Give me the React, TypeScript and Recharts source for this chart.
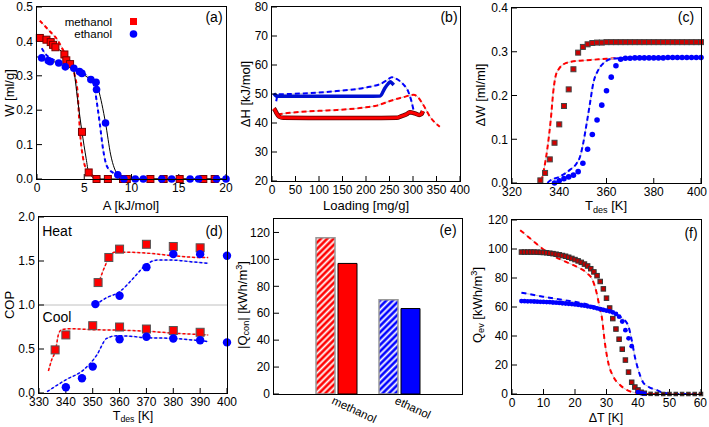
import React from 'react';
import { ComposedChart, BarChart, Bar, Cell, Line, Scatter, XAxis, YAxis, ReferenceLine } from 'recharts';

const FONT = '"Liberation Sans", Arial, sans-serif';
const RED = '#ff0000';
const BLUE = '#0000ff';

// ---------- (a) W vs A ----------
const aMethX = [0.3, 1.0, 1.45, 1.7, 1.95, 2.9, 3.1, 3.5, 4.76, 5.47, 6.3, 7.5, 9.1, 9.5, 12.0, 13.4, 15.1, 17.6, 18.8];
const aMethW = [0.41, 0.405, 0.398, 0.39, 0.383, 0.362, 0.345, 0.334, 0.137, 0.019, 0, 0, 0, 0, 0, 0, 0, 0, 0];
const aEthX = [0.5, 1.2, 1.4, 2.3, 3.0, 3.9, 4.5, 4.75, 5.7, 6.25, 6.3, 7.25, 8.55, 9.2, 10.4, 11.25, 13.2, 14.25, 16.2, 17.1, 19.0, 20.0];
const aEthW = [0.352, 0.344, 0.341, 0.337, 0.326, 0.322, 0.312, 0.307, 0.289, 0.281, 0.26, 0.163, 0.012, 0, 0, 0, 0, 0, 0, 0, 0, 0];
const aMethFitX = [0.3, 1.0, 1.45, 1.7, 1.95, 2.9, 3.1, 3.5, 3.85, 4.3, 4.76, 5.2, 5.47, 6.3, 20];
const aMethFitW = [0.41, 0.405, 0.398, 0.39, 0.383, 0.362, 0.345, 0.334, 0.32, 0.23, 0.137, 0.06, 0.019, 0, 0];
const aEthFitX = [0, 0.5, 1.2, 2.3, 3.0, 3.9, 4.5, 5.7, 6.25, 6.5, 7.25, 7.8, 8.55, 9.2, 20];
const aEthFitW = [0.355, 0.352, 0.344, 0.337, 0.326, 0.322, 0.312, 0.289, 0.281, 0.26, 0.163, 0.07, 0.012, 0, 0];
const aMethSimX = [0.3, 1.4, 2.1, 2.8, 3.5, 4.0, 4.3, 4.45, 4.6, 4.85, 5.25, 6.0, 6.7];
const aMethSimW = [0.46, 0.428, 0.407, 0.373, 0.34, 0.3, 0.25, 0.18, 0.12, 0.065, 0.027, 0.008, 0];
const aEthSimX = [0.5, 1.0, 1.5, 2.3, 3.0, 3.9, 4.5, 5.7, 5.95, 6.15, 6.4, 6.65, 7.0, 7.4, 8.1, 8.8, 9.5];
const aEthSimW = [0.38, 0.36, 0.35, 0.34, 0.33, 0.322, 0.312, 0.29, 0.28, 0.255, 0.21, 0.16, 0.085, 0.037, 0.017, 0.008, 0];

// ---------- (b) dH vs loading ----------
const bEthX = [4, 8, 15, 50, 100, 150, 200, 230, 240, 247, 252, 256, 259];
const bEthH = [50.2, 49.4, 49.2, 49.2, 49.2, 49.2, 49.2, 49.3, 52, 53.5, 54.2, 53.6, 53.1];
const bMethX = [4, 7, 10, 15, 24, 100, 200, 265, 276, 286, 293, 304, 313, 318, 321];
const bMethH = [45, 44.3, 43.3, 42.2, 41.8, 41.7, 41.7, 41.8, 42.4, 43, 43.7, 43.3, 42.8, 43.1, 44.1];
const bEthSimX = [9, 13, 20, 38, 67, 138, 208, 230, 245, 255, 265, 279, 290, 297, 301];
const bEthSimH = [47.5, 49.9, 49.9, 50, 50.2, 51, 52.5, 53.4, 54.8, 55.8, 55.2, 53.4, 50.8, 47.3, 44.5];
const bMethSimX = [12, 38, 100, 138, 200, 223, 251, 279, 301, 308, 322, 336, 357];
const bMethSimH = [43, 43.5, 44.2, 44.5, 45.4, 46, 47.6, 48.9, 49.7, 49.3, 46.2, 42.2, 38.7];

// ---------- (c) dW vs Tdes ----------
const cMethT = [332, 334, 336, 338, 340, 342, 344, 346, 348, 350, 352, 354, 356, 358, 360, 362, 364, 366, 368, 370, 372, 374, 376, 378, 380, 382, 384, 386, 388, 390, 392, 394, 396, 398, 400];
const cMethW = [0.006, 0.023, 0.054, 0.092, 0.134, 0.176, 0.214, 0.26, 0.298, 0.311, 0.317, 0.32, 0.321, 0.321, 0.322, 0.322, 0.322, 0.322, 0.322, 0.322, 0.322, 0.322, 0.322, 0.322, 0.322, 0.322, 0.322, 0.322, 0.322, 0.322, 0.322, 0.322, 0.322, 0.322, 0.322];
const cEthT = [338, 340, 342, 344, 346, 348, 350, 352, 354, 356, 358, 360, 362, 364, 366, 368, 370, 372, 374, 376, 378, 380, 382, 384, 386, 388, 390, 392, 394, 396, 398, 400];
const cEthW = [0, 0.005, 0.01, 0.014, 0.018, 0.026, 0.045, 0.077, 0.111, 0.144, 0.178, 0.211, 0.242, 0.268, 0.283, 0.285, 0.285, 0.286, 0.286, 0.286, 0.286, 0.286, 0.286, 0.286, 0.287, 0.287, 0.287, 0.287, 0.287, 0.287, 0.287, 0.287];
const cMethSimT = [332.5, 333.5, 335, 336.5, 337.5, 338.5, 340, 342, 345, 350, 355, 360, 370, 380, 400];
const cMethSimW = [0.005, 0.03, 0.08, 0.15, 0.21, 0.245, 0.262, 0.272, 0.277, 0.28, 0.282, 0.284, 0.286, 0.287, 0.287];
const cEthSimT = [335, 336, 340, 344.5, 347.4, 348.8, 350, 351.6, 353, 354.4, 356.5, 359.4, 362.2, 370, 400];
const cEthSimW = [0, 0.005, 0.014, 0.03, 0.045, 0.06, 0.087, 0.136, 0.182, 0.228, 0.258, 0.277, 0.284, 0.286, 0.287];

// ---------- (d) COP vs Tdes ----------
const dMethHeatT = [352, 356, 360, 370, 380, 390];
const dMethHeat = [1.255, 1.54, 1.635, 1.69, 1.665, 1.65];
const dMethCoolT = [336, 340, 350, 360, 370, 380, 390];
const dMethCool = [0.49, 0.66, 0.765, 0.75, 0.727, 0.71, 0.69];
const dEthHeatT = [351, 360, 370, 380, 390, 400];
const dEthHeat = [1.01, 1.105, 1.43, 1.578, 1.578, 1.56];
const dEthCoolT = [340, 346, 350, 360, 370, 380, 390, 400];
const dEthCool = [0.065, 0.167, 0.3, 0.61, 0.64, 0.62, 0.6, 0.575];
const dMethHeatSimT = [352, 354, 356, 358, 362, 370, 380, 390, 393];
const dMethHeatSim = [1.23, 1.4, 1.53, 1.6, 1.6, 1.59, 1.56, 1.54, 1.54];
const dEthHeatSimT = [351, 355, 360, 365, 370, 374, 380, 387, 393];
const dEthHeatSim = [1.0, 1.08, 1.15, 1.3, 1.46, 1.51, 1.51, 1.49, 1.475];
const dMethCoolSimT = [333.5, 334.7, 336.2, 337.2, 338.4, 341.5, 350, 364, 371, 380, 393];
const dMethCoolSim = [0.25, 0.375, 0.49, 0.66, 0.72, 0.73, 0.72, 0.71, 0.7, 0.68, 0.66];
const dEthCoolSimT = [333, 340, 346.5, 351.5, 355.2, 359, 364, 369, 380, 393];
const dEthCoolSim = [0.015, 0.15, 0.26, 0.43, 0.62, 0.65, 0.645, 0.63, 0.62, 0.585];

// ---------- (e) |Qcon| bars ----------
const eNames = ['methanol', 'ethanol'];
const eHatched = [116, 70];
const eSolid = [97, 63.5];

// ---------- (f) Qev vs dT ----------
const fMethT = [3, 4, 5, 6, 7, 8, 9, 10, 11, 12, 13, 14, 15, 16, 17, 18, 19, 20, 21, 22, 23, 24, 25, 26, 27, 28, 29, 30, 31, 32, 33, 34, 35, 36, 37, 38, 39, 40, 41, 42];
const fMethQ = [97.9, 97.9, 97.9, 97.9, 97.9, 97.8, 97.7, 97.6, 97.4, 97.1, 96.8, 96.4, 96, 95.5, 95, 94.3, 93.5, 92.7, 91.8, 90.8, 89.6, 88.3, 86.4, 84.2, 81.6, 77.6, 72.5, 66.1, 59.3, 52, 44.8, 37.8, 30.9, 23.4, 15.1, 8.1, 4.8, 2.8, 1.2, 0.5];
const fEthT = [3, 4, 5, 6, 7, 8, 9, 10, 11, 12, 13, 14, 15, 16, 17, 18, 19, 20, 21, 22, 23, 24, 25, 26, 27, 28, 29, 30, 31, 32, 33, 34, 35, 36, 37, 38, 40, 41, 42];
const fEthQ = [64.1, 64, 63.9, 63.9, 63.8, 63.7, 63.6, 63.5, 63.4, 63.3, 63.1, 63, 62.8, 62.6, 62.4, 62.2, 62, 61.8, 61.5, 61.2, 60.9, 60.5, 60.1, 59.6, 59.1, 58.5, 58, 57.5, 57, 56.3, 55.2, 53.3, 50, 44, 38.4, 33, 1.2, 0.6, 0.3];
const fTailT = [44, 46, 48, 50, 52, 54, 56, 58, 60];
const fTailQ = [0.1, 0.05, 0, 0, 0, 0, 0, 0, 0];
const fMethSimT = [2.6, 5.7, 8.9, 12.6, 16.3, 20.5, 24, 25.5, 26.9, 27.8, 28.5, 29.5, 30.6, 32.2, 34.3, 36.4, 39, 42.3, 60];
const fMethSimQ = [113, 107.4, 101.6, 95.9, 91.9, 87.8, 83, 79, 69.4, 60, 53.3, 35, 21.2, 11.9, 6.2, 2.8, 1, 0, 0];
const fEthSimT = [3, 9.9, 16.3, 22.6, 27.5, 31.7, 34.3, 35.9, 37, 38, 39, 40.1, 41.5, 43.3, 45.9, 48, 53, 60];
const fEthSimQ = [69.9, 67.1, 64.8, 62.5, 59.5, 56.8, 53.3, 50.6, 46.4, 37.2, 25.7, 16.6, 8.5, 5, 2.8, 0.9, 0, 0];

type Pt = { x: number; y: number };
const zip = (xs: number[], ys: number[]): Pt[] => xs.map((x, i) => ({ x, y: ys[i] }));

type Box = { l: number; t: number; r: number; b: number };
const YW = 40;
const XH = 30;
const PAD = 8;
const PADR = 16;

const boxA: Box = { l: 37, t: 7, r: 226, b: 179 };
const boxB: Box = { l: 272, t: 7, r: 460, b: 181 };
const boxC: Box = { l: 512, t: 8, r: 701, b: 183 };
const boxD: Box = { l: 39, t: 217, r: 227, b: 393 };
const boxE: Box = { l: 274, t: 219, r: 462, b: 394 };
const boxF: Box = { l: 512, t: 220, r: 701, b: 394 };

const tickStyle = { fill: '#000', fontSize: 12, fontFamily: FONT };
const axisProps = {
  tick: tickStyle,
  tickSize: -5,
  tickMargin: 9,
  axisLine: false,
  tickLine: { stroke: '#000' },
  interval: 0 as const,
};

// x tick for the right-hand column: the last label is right-aligned so it stays on the page
// (coordinates here are local to the chart svg, which starts at boxC.l - YW)
const EDGE_LOCAL = YW + (boxC.r - boxC.l);
function EdgeTick(props: any) {
  const { x, y, payload } = props;
  const atEdge = x > EDGE_LOCAL - 4;
  return (
    <text x={atEdge ? x + 6 : x} y={y} fontSize={12} fontFamily={FONT} fill="#000" textAnchor={atEdge ? 'end' : 'middle'} dominantBaseline="hanging">
      {payload.value}
    </text>
  );
}

const square = (s: number, fill: string, stroke: string) => (p: any) => (
  <rect x={p.cx - s / 2} y={p.cy - s / 2} width={s} height={s} fill={fill} stroke={stroke} strokeWidth={1} />
);
const disc = (r: number, fill: string) => (p: any) => <circle cx={p.cx} cy={p.cy} r={r} fill={fill} />;

const sim = (key: string, data: Pt[], color: string, w = 2, dash = '5 3') => [
  <Line key={key + '-g'} data={data} dataKey="y" type="monotone" stroke="#c8c8c8" strokeWidth={1} dot={false} isAnimationActive={false} />,
  <Line key={key} data={data} dataKey="y" type="monotone" stroke={color} strokeWidth={w} strokeDasharray={dash} dot={false} isAnimationActive={false} />,
];

function Frame({ box }: { box: Box }) {
  return (
    <div
      style={{
        position: 'absolute',
        left: box.l - 1,
        top: box.t - 1,
        width: box.r - box.l + 2,
        height: box.b - box.t + 2,
        border: '1.5px solid #000',
        boxSizing: 'border-box',
        pointerEvents: 'none',
      }}
    />
  );
}

function Panel({ box, children }: { box: Box; children: React.ReactNode }) {
  const w = box.r - box.l + YW + PADR;
  const h = box.b - box.t + PAD + XH;
  return (
    <>
      <div style={{ position: 'absolute', left: box.l - YW, top: box.t - PAD, width: w, height: h }}>
        <ComposedChart width={w} height={h} margin={{ top: PAD, right: PADR, left: 0, bottom: 0 }}>
          {children}
        </ComposedChart>
      </div>
      <Frame box={box} />
    </>
  );
}

function Txt({ x, y, size = 13, rotate = false, children }: { x: number; y: number; size?: number; rotate?: boolean; children: React.ReactNode }) {
  return (
    <div
      style={{
        position: 'absolute',
        left: x,
        top: y,
        transform: `translate(-50%, -50%)${rotate ? ' rotate(-90deg)' : ''}`,
        whiteSpace: 'nowrap',
        fontFamily: FONT,
        fontSize: size,
        color: '#000',
        lineHeight: 1,
      }}
    >
      {children}
    </div>
  );
}

const subStyle = { fontSize: '0.7em', verticalAlign: '-0.25em' };
const supStyle = { fontSize: '0.7em', verticalAlign: '0.5em' };

function SlantTick(props: any) {
  const { x, y, payload } = props;
  const tx = x - 2;
  const ty = y - 8;
  return (
    <text x={tx} y={ty} transform={`rotate(25 ${tx} ${ty})`} fontSize={11.5} fontFamily={FONT} fill="#000" textAnchor="start" dominantBaseline="hanging">
      {payload.value}
    </text>
  );
}

export default function App() {
  const eData = eNames.map((name, i) => ({ name, hatched: eHatched[i], solid: eSolid[i] }));
  const eW = boxE.r - boxE.l + YW + PADR;
  const eH = boxE.b - boxE.t + PAD + 33;
  const hatchFills = ['url(#hatchRed)', 'url(#hatchBlue)'];
  const solidFills = [RED, BLUE];

  return (
    <div style={{ position: 'absolute', left: 0, top: 0, width: 709, height: 427, background: '#fff', overflow: 'hidden' }}>
      {/* (a) */}
      <Panel box={boxA}>
        <XAxis type="number" dataKey="x" domain={[0, 20]} ticks={[0, 5, 10, 15, 20]} height={XH} {...axisProps} />
        <YAxis type="number" domain={[0, 0.5]} ticks={[0, 0.1, 0.2, 0.3, 0.4, 0.5]} width={YW} tickFormatter={(v: number) => v.toFixed(1)} {...axisProps} />
        {sim('am', zip(aMethSimX, aMethSimW), RED, 2, '4 3')}
        {sim('ae', zip(aEthSimX, aEthSimW), BLUE, 2, '4 3')}
        <Line data={zip(aMethFitX, aMethFitW)} dataKey="y" type="monotone" stroke="#000" strokeWidth={1} dot={false} isAnimationActive={false} />
        <Line data={zip(aEthFitX, aEthFitW)} dataKey="y" type="monotone" stroke="#000" strokeWidth={1} dot={false} isAnimationActive={false} />
        <Scatter data={zip(aMethX, aMethW)} dataKey="y" shape={square(7, RED, '#700')} isAnimationActive={false} />
        <Scatter data={zip(aEthX, aEthW)} dataKey="y" shape={disc(3.8, BLUE)} isAnimationActive={false} />
      </Panel>
      <Txt x={131} y={205}>A [kJ/mol]</Txt>
      <Txt x={9} y={93} rotate>W [ml/g]</Txt>
      <Txt x={214} y={17} size={14}>(a)</Txt>
      <div style={{ position: 'absolute', right: 709 - 112, top: 16, fontFamily: FONT, fontSize: 11.5, lineHeight: '12px', textAlign: 'right' }}>
        <div>methanol</div>
        <div>ethanol</div>
      </div>
      <svg style={{ position: 'absolute', left: 126, top: 14 }} width={16} height={28}>
        <rect x={4} y={4} width={7} height={7} fill={RED} />
        <circle cx={7.5} cy={20} r={3.8} fill={BLUE} />
      </svg>

      {/* (b) */}
      <Panel box={boxB}>
        <XAxis type="number" dataKey="x" domain={[0, 400]} ticks={[0, 50, 100, 150, 200, 250, 300, 350, 400]} height={XH} {...axisProps} />
        <YAxis type="number" domain={[20, 80]} ticks={[20, 30, 40, 50, 60, 70, 80]} width={YW} {...axisProps} />
        {sim('bm', zip(bMethSimX, bMethSimH), RED, 2, '5 3')}
        {sim('be', zip(bEthSimX, bEthSimH), BLUE, 2, '5 3')}
        <Line data={zip(bMethX, bMethH)} dataKey="y" type="monotone" stroke="#500" strokeWidth={4.5} dot={false} isAnimationActive={false} />
        <Line data={zip(bMethX, bMethH)} dataKey="y" type="monotone" stroke={RED} strokeWidth={3} dot={false} isAnimationActive={false} />
        <Line data={zip(bEthX, bEthH)} dataKey="y" type="monotone" stroke="#0010d0" strokeWidth={3.5} dot={false} isAnimationActive={false} />
      </Panel>
      <Txt x={366} y={205}>Loading [mg/g]</Txt>
      <Txt x={245} y={94} rotate>ΔH [kJ/mol]</Txt>
      <Txt x={449} y={17} size={14}>(b)</Txt>

      {/* (c) */}
      <Panel box={boxC}>
        <XAxis type="number" dataKey="x" domain={[320, 400]} ticks={[320, 340, 360, 380, 400]} height={XH} {...axisProps} tick={<EdgeTick />} />
        <YAxis type="number" domain={[0, 0.4]} ticks={[0, 0.1, 0.2, 0.3, 0.4]} width={YW} tickFormatter={(v: number) => v.toFixed(1)} {...axisProps} />
        {sim('cm', zip(cMethSimT, cMethSimW), RED, 2, '5 3')}
        {sim('ce', zip(cEthSimT, cEthSimW), BLUE, 2, '5 3')}
        <Scatter data={zip(cMethT, cMethW)} dataKey="y" shape={square(5, '#d00000', '#444')} isAnimationActive={false} />
        <Scatter data={zip(cEthT, cEthW)} dataKey="y" shape={disc(2.8, BLUE)} isAnimationActive={false} />
      </Panel>
      <Txt x={606} y={207}>T<span style={subStyle}>des</span> [K]</Txt>
      <Txt x={480} y={95} rotate>ΔW [ml/ml]</Txt>
      <Txt x={686} y={17} size={14}>(c)</Txt>

      {/* (d) */}
      <Panel box={boxD}>
        <XAxis type="number" dataKey="x" domain={[330, 400]} ticks={[330, 340, 350, 360, 370, 380, 390, 400]} height={XH} {...axisProps} />
        <YAxis type="number" domain={[0, 2]} ticks={[0, 0.5, 1, 1.5, 2]} width={YW} tickFormatter={(v: number) => v.toFixed(1)} {...axisProps} />
        <ReferenceLine y={1} stroke="#c0c0c0" strokeWidth={1} />
        {sim('dmh', zip(dMethHeatSimT, dMethHeatSim), RED, 1.5, '3 2')}
        {sim('deh', zip(dEthHeatSimT, dEthHeatSim), BLUE, 1.5, '3 2')}
        {sim('dmc', zip(dMethCoolSimT, dMethCoolSim), RED, 1.5, '3 2')}
        {sim('dec', zip(dEthCoolSimT, dEthCoolSim), BLUE, 1.5, '3 2')}
        <Scatter data={zip(dMethHeatT, dMethHeat)} dataKey="y" shape={square(8, RED, '#555')} isAnimationActive={false} />
        <Scatter data={zip(dMethCoolT, dMethCool)} dataKey="y" shape={square(8, RED, '#555')} isAnimationActive={false} />
        <Scatter data={zip(dEthHeatT, dEthHeat)} dataKey="y" shape={disc(4.2, BLUE)} isAnimationActive={false} />
        <Scatter data={zip(dEthCoolT, dEthCool)} dataKey="y" shape={disc(4.2, BLUE)} isAnimationActive={false} />
      </Panel>
      <Txt x={133} y={417} size={12.5}>T<span style={subStyle}>des</span> [K]</Txt>
      <Txt x={9} y={305} rotate>COP</Txt>
      <Txt x={214} y={231} size={14}>(d)</Txt>
      <Txt x={57} y={231} size={14}>Heat</Txt>
      <Txt x={57} y={317} size={14}>Cool</Txt>

      {/* (e) */}
      <div style={{ position: 'absolute', left: boxE.l - YW, top: boxE.t - PAD, width: eW, height: eH }}>
        <BarChart width={eW} height={eH} data={eData} margin={{ top: PAD, right: PADR, left: 0, bottom: 0 }} barSize={19} barGap={3}>
          <defs>
            <pattern id="hatchRed" patternUnits="userSpaceOnUse" width={4.5} height={4.5} patternTransform="rotate(45)">
              <rect width={4.5} height={4.5} fill={RED} />
              <line x1={2.25} y1={0} x2={2.25} y2={4.5} stroke="#fff" strokeWidth={1.8} />
            </pattern>
            <pattern id="hatchBlue" patternUnits="userSpaceOnUse" width={4.5} height={4.5} patternTransform="rotate(45)">
              <rect width={4.5} height={4.5} fill={BLUE} />
              <line x1={2.25} y1={0} x2={2.25} y2={4.5} stroke="#fff" strokeWidth={1.8} />
            </pattern>
          </defs>
          <XAxis dataKey="name" type="category" padding={{ left: 31, right: 31 }} height={33} tick={<SlantTick />} tickLine={false} axisLine={false} tickMargin={4} interval={0} />
          <YAxis type="number" domain={[0, 130]} ticks={[0, 20, 40, 60, 80, 100, 120]} width={YW} {...axisProps} />
          <Bar dataKey="hatched" stroke="#999" strokeWidth={1.5} isAnimationActive={false}>
            {eData.map((d, i) => (
              <Cell key={d.name} fill={hatchFills[i]} />
            ))}
          </Bar>
          <Bar dataKey="solid" stroke="#000" strokeWidth={1} isAnimationActive={false}>
            {eData.map((d, i) => (
              <Cell key={d.name} fill={solidFills[i]} />
            ))}
          </Bar>
        </BarChart>
      </div>
      <Frame box={boxE} />
      <Txt x={243} y={305} rotate>|Q<span style={subStyle}>con</span>| [kWh/m<span style={supStyle}>3</span>]</Txt>
      <Txt x={448} y={230} size={14}>(e)</Txt>

      {/* (f) */}
      <Panel box={boxF}>
        <XAxis type="number" dataKey="x" domain={[0, 60]} ticks={[0, 10, 20, 30, 40, 50, 60]} height={XH} {...axisProps} tick={<EdgeTick />} />
        <YAxis type="number" domain={[0, 120]} ticks={[0, 20, 40, 60, 80, 100, 120]} width={YW} {...axisProps} />
        {sim('fm', zip(fMethSimT, fMethSimQ), RED, 2, '5 4')}
        {sim('fe', zip(fEthSimT, fEthSimQ), BLUE, 2, '5 4')}
        <Scatter data={zip(fMethT, fMethQ)} dataKey="y" shape={square(4.5, '#c00000', '#333')} isAnimationActive={false} />
        <Scatter data={zip(fEthT, fEthQ)} dataKey="y" shape={disc(2.4, BLUE)} isAnimationActive={false} />
        <Scatter data={zip(fTailT, fTailQ)} dataKey="y" shape={square(3.5, '#600', '#333')} isAnimationActive={false} />
      </Panel>
      <Txt x={606} y={418} size={12.5}>ΔT [K]</Txt>
      <Txt x={478} y={305} rotate>Q<span style={subStyle}>ev</span> [kWh/m<span style={supStyle}>3</span>]</Txt>
      <Txt x={691} y={233} size={14}>(f)</Txt>
    </div>
  );
}
